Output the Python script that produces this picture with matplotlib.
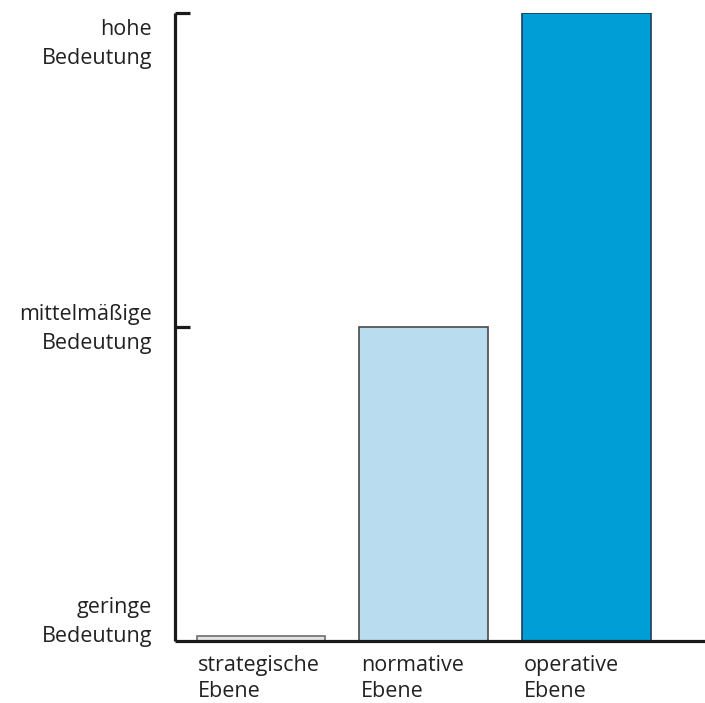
import matplotlib
matplotlib.use("Agg")
import matplotlib.pyplot as plt
import matplotlib.transforms as mtransforms

plt.rcParams['font.family'] = ['Open Sans', 'DejaVu Sans']

categories = ["strategische\nEbene", "normative\nEbene", "operative\nEbene"]
values = [0.008, 0.5, 1.0]
level_ticks = [0.0, 0.5, 1.0]
level_labels = ["geringe\nBedeutung", "mittelmäßige\nBedeutung", "hohe\nBedeutung"]

face_colors = ["#e4e4e2", "#b9dcee", "#009ed6"]
edge_colors = ["#6e6e6e", "#4a4a4a", "#1c3f5a"]

fig = plt.figure(figsize=(7.05, 7.03), dpi=100)
ax = fig.add_axes([175 / 705, 62 / 703, 530 / 705, (641 - 13) / 703])

width = 0.79
xs = list(range(len(categories)))
ax.bar(xs, values, width=width, color=face_colors, edgecolor=edge_colors, linewidth=1.2, zorder=2)

ax.set_xlim(-0.528, 2.727)
ax.set_ylim(0, 1)

for s in ("top", "right"):
    ax.spines[s].set_visible(False)
for s in ("left", "bottom"):
    ax.spines[s].set_linewidth(2.3)
    ax.spines[s].set_color("#1a1a1a")
    ax.spines[s].set_capstyle("butt")

ax.set_xticks([])
ax.set_yticks(level_ticks[1:])
ax.tick_params(axis="y", direction="in", length=11, width=2.3, color="#1a1a1a", labelleft=False)

fs = 15.5
ls = 1.5
# category labels, left-aligned under each bar
for x, lab in zip(xs, categories):
    ax.text(x - width / 2 + 0.01, -0.022, lab, ha="left", va="top", fontsize=fs,
            color="#222222", linespacing=1.3, clip_on=False)

# level labels to the left of the axis
trans = mtransforms.blended_transform_factory(fig.transFigure, ax.transData)
xlab = 152 / 705
ax.text(xlab, 0.030, level_labels[0], transform=trans, ha="right", va="center",
        fontsize=fs, color="#222222", linespacing=ls)
ax.text(xlab, 0.497, level_labels[1], transform=trans, ha="right", va="center",
        fontsize=fs, color="#222222", linespacing=ls)
ax.text(xlab, 0.99, level_labels[2], transform=trans, ha="right", va="top",
        fontsize=fs, color="#222222", linespacing=ls)

fig.savefig("out.png", dpi=100, facecolor="white")
